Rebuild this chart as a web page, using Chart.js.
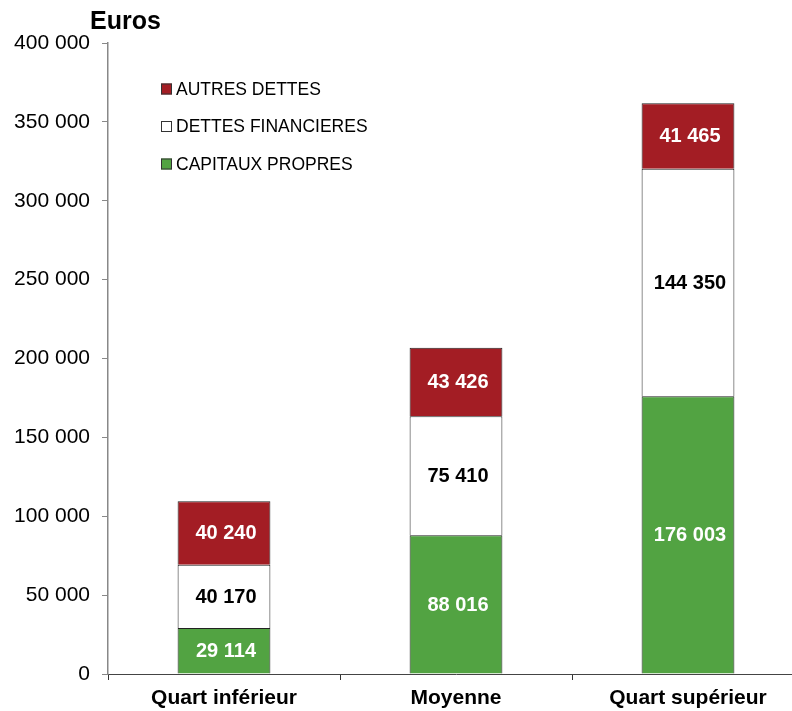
<!DOCTYPE html>
<html>
<head>
<meta charset="utf-8">
<script src="https://cdn.jsdelivr.net/npm/chart.js@4"></script>
<style>
  body{margin:0;background:#fff;overflow:hidden;}
  #wrap{position:relative;width:812px;height:711px;}
</style>
</head>
<body>
<div id="wrap"><canvas id="chart"></canvas></div>
<script>
const categories=['Quart inférieur','Moyenne','Quart supérieur'];
const capitauxPropres=[29114,88016,176003];
const dettesFinancieres=[40170,75410,144350];
const autresDettes=[40240,43426,41465];
const yTicks=[0,50000,100000,150000,200000,250000,300000,350000,400000];

const FONT="'Liberation Sans', Arial, sans-serif";
const fmt=(v)=>String(v).replace(/\B(?=(\d{3})+(?!\d))/g,' ');

// labels in the middle of each segment
const segLabels={
    id:'segLabels',
    afterDatasetsDraw(chart){
        const ctx=chart.ctx;
        ctx.save();
        ctx.font='bold 20px '+FONT;
        ctx.textAlign='center';
        ctx.textBaseline='middle';
        chart.data.datasets.forEach((ds,i)=>{
            const meta=chart.getDatasetMeta(i);
            meta.data.forEach((bar,j)=>{
                ctx.fillStyle=ds.labelColor;
                ctx.fillText(fmt(ds.data[j]),bar.x+2,(bar.y+bar.base)/2+1);
            });
        });
        ctx.restore();
    }
};

// legend + title drawn inside the plot
const extras={
    id:'extras',
    afterDraw(chart){
        const ctx=chart.ctx;
        ctx.save();
        ctx.fillStyle='#000';
        ctx.font='bold 25px '+FONT;
        ctx.textBaseline='alphabetic';
        ctx.textAlign='left';
        ctx.fillText('Euros',90,29);
        const items=[2,1,0];
        ctx.font='17.5px '+FONT;
        ctx.textBaseline='middle';
        items.forEach((idx,k)=>{
            const ds=chart.data.datasets[idx];
            const y=89+k*37.5;
            ctx.fillStyle=ds.backgroundColor;
            ctx.fillRect(161,y-5.5,11,11);
            ctx.strokeStyle='#333';
            ctx.lineWidth=1;
            ctx.strokeRect(161.5,y-5,10,10);
            ctx.fillStyle='#000';
            ctx.fillText(ds.label,176,y+1);
        });
        ctx.restore();
    }
};

const ctx=document.getElementById('chart').getContext('2d');
new Chart(ctx,{
    type:'bar',
    data:{
        labels:categories,
        datasets:[
            {label:'CAPITAUX PROPRES',data:capitauxPropres,backgroundColor:'#52A342',labelColor:'#fff'},
            {label:'DETTES FINANCIERES',data:dettesFinancieres,backgroundColor:'#ffffff',labelColor:'#000'},
            {label:'AUTRES DETTES',data:autresDettes,backgroundColor:'#A31D24',labelColor:'#fff'}
        ].map(d=>Object.assign(d,{borderColor:'#222',borderWidth:1,barPercentage:0.4,categoryPercentage:1}))
    },
    options:{
        responsive:true,
        maintainAspectRatio:false,
        animation:false,
        layout:{padding:{top:43,right:8,bottom:0,left:0}},
        plugins:{legend:{display:false},tooltip:{enabled:false}},
        scales:{
            x:{
                stacked:true,
                grid:{display:true,drawOnChartArea:false,offset:true,tickLength:6,color:'#333'},
                border:{color:'#444',width:1},
                ticks:{color:'#000',font:{family:FONT,size:21,weight:'bold'},padding:6},
                afterFit(s){s.height=37;}
            },
            y:{
                stacked:true,
                min:0,max:400000,
                afterBuildTicks(s){s.ticks=yTicks.map(v=>({value:v}));},
                grid:{display:true,drawOnChartArea:false,tickLength:6,color:'#888'},
                border:{color:'#888',width:1.5},
                ticks:{color:'#000',font:{family:FONT,size:21},padding:12,callback:(v)=>fmt(v)},
                afterFit(s){s.width=108;}
            }
        }
    },
    plugins:[segLabels,extras]
});
</script>
</body>
</html>
